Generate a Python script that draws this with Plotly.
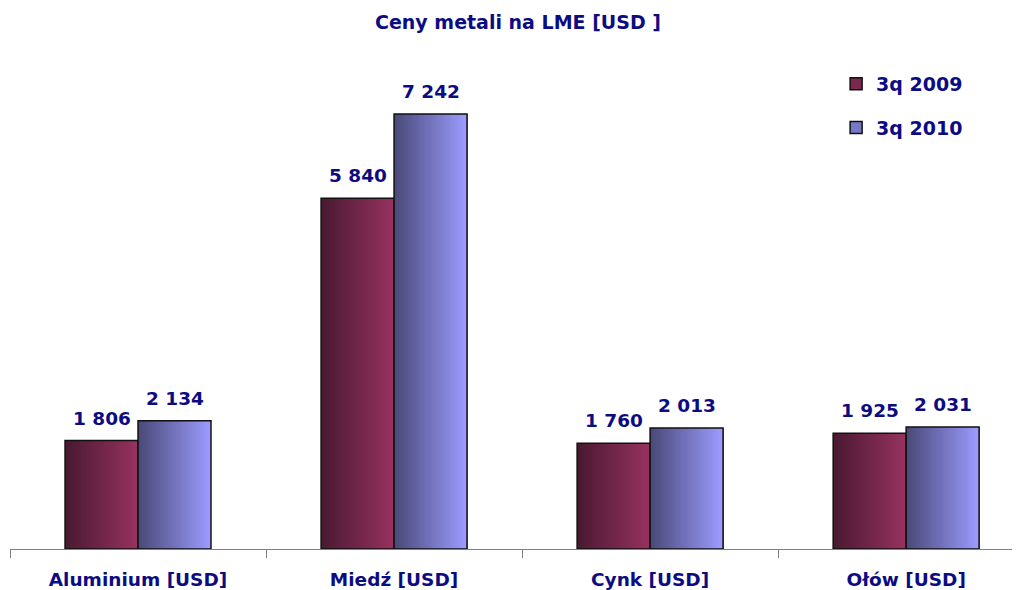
import plotly.graph_objects as go

categories = ["Aluminium [USD]", "Miedź [USD]", "Cynk [USD]", "Ołów [USD]"]
series_names = ["3q 2009", "3q 2010"]
values_2009 = [1806, 5840, 1760, 1925]
values_2010 = [2134, 7242, 2013, 2031]

series_values = [values_2009, values_2010]
gradients = [("#4A1A32", "#97335F"), ("#4A4A7A", "#9C9CFF")]
legend_colors = ["#7A2850", "#7878C8"]

NAVY = "#0C0C82"
FONT = "DejaVu Sans, Verdana, sans-serif"
BW = 0.285          # bar width in category units
N = 72              # gradient slices per bar
PX_PER_CAT = 256    # plot width / x range


def hex_to_rgb(h):
    h = h.lstrip("#")
    return tuple(int(h[i:i + 2], 16) for i in (0, 2, 4))


def lerp(c1, c2, t):
    a, b = hex_to_rgb(c1), hex_to_rgb(c2)
    return "rgb(%d,%d,%d)" % tuple(round(a[k] + (b[k] - a[k]) * t) for k in range(3))


def fmt(v):
    return f"{v:,}".replace(",", " ")


fig = go.Figure()

for s, vals in enumerate(series_values):
    base = -BW + s * BW
    c1, c2 = gradients[s]
    for i in range(N):
        t = i / (N - 1)
        w = BW / N * (2 if i < N - 1 else 1)
        fig.add_trace(go.Bar(
            x=categories, y=vals,
            offset=base + i * BW / N, width=w,
            marker=dict(color=lerp(c1, c2, t), line=dict(width=0)),
            showlegend=False, hoverinfo="skip",
        ))
    fig.add_trace(go.Bar(
        x=categories, y=vals, name=series_names[s],
        offset=base, width=BW,
        marker=dict(color="rgba(0,0,0,0)", line=dict(color="#111111", width=1.5)),
        showlegend=False,
    ))
    for c, v in zip(categories, vals):
        fig.add_annotation(
            x=c, y=v, text=fmt(v), showarrow=False,
            xanchor="center", yanchor="bottom",
            xshift=(s - 0.5) * BW * PX_PER_CAT, yshift=10,
            font=dict(family=FONT, size=18.5, color=NAVY, weight="bold"),
        )

for s, name in enumerate(series_names):
    fig.add_trace(go.Bar(
        x=[None], y=[None], name=name, legendgroup=name,
        marker=dict(color=legend_colors[s], line=dict(color="#111111", width=1.5)),
        showlegend=True,
    ))

fig.update_layout(
    width=1020, height=590,
    template=None,
    barmode="overlay",
    paper_bgcolor="white", plot_bgcolor="white",
    margin=dict(l=2, r=0, t=32, b=49, autoexpand=False),
    title=dict(text="Ceny metali na LME [USD ]", x=0.5, xanchor="center", y=0.976, yanchor="middle",
               font=dict(family=FONT, size=19, color=NAVY, weight="bold")),
    legend=dict(x=0.8115, y=0.951, xanchor="left", yanchor="top",
                font=dict(family=FONT, size=19, color=NAVY, weight="bold"),
                tracegroupgap=16, bgcolor="rgba(0,0,0,0)"),
    showlegend=True,
    font=dict(family=FONT),
)
fig.update_xaxes(
    type="category", range=[-0.5, 3.476], showgrid=False, zeroline=False,
    showline=True, linecolor="#808080", linewidth=1,
    ticks="outside", tickson="boundaries", ticklen=8, tickcolor="#808080",
    tickfont=dict(family=FONT, size=18.5, color=NAVY, weight="bold"),
    ticklabelstandoff=14, automargin=False,
)
fig.update_yaxes(range=[0, 8473], visible=False, showgrid=False, zeroline=False, automargin=False)

fig.write_html("out.html")
